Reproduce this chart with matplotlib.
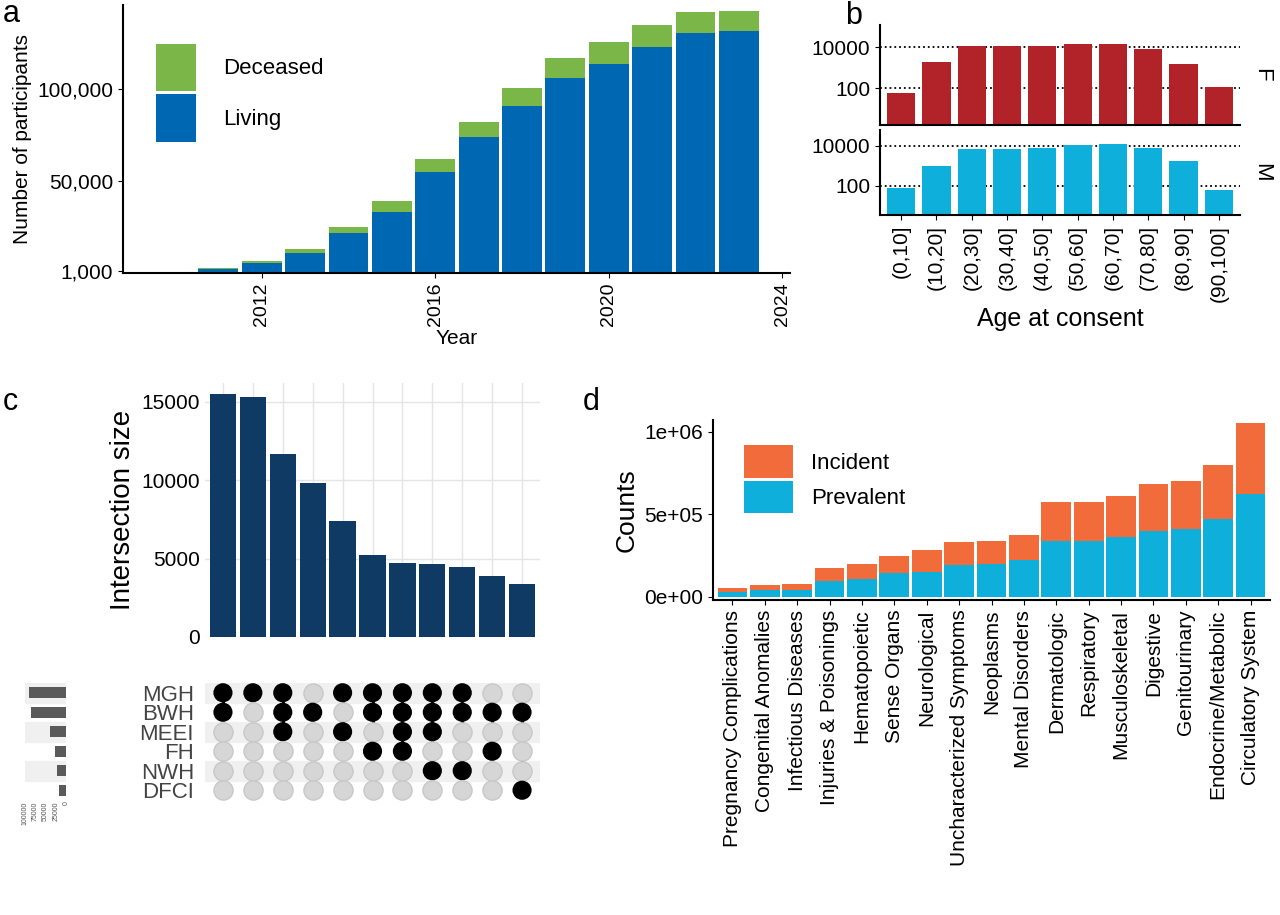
import matplotlib
matplotlib.use("Agg")
import matplotlib.pyplot as plt
import numpy as np

plt.rcParams['font.family'] = ['Liberation Sans', 'DejaVu Sans']

# ---- data ----
years = [2011, 2012, 2013, 2014, 2015, 2016, 2017, 2018, 2019, 2020, 2021, 2022, 2023]
living = [2200, 5500, 11000, 22000, 33000, 55000, 74000, 91000, 106000, 114000, 123000, 131000, 132000]
deceased = [300, 1000, 2000, 3000, 6000, 7000, 8000, 10000, 11000, 12000, 12000, 11000, 11000]

age_bins = ['(0,10]', '(10,20]', '(20,30]', '(30,40]', '(40,50]', '(50,60]', '(60,70]', '(70,80]', '(80,90]', '(90,100]']
female = [60, 2000, 12000, 11000, 11000, 15000, 14000, 8000, 1500, 120]
male = [80, 1000, 7000, 7000, 8000, 11000, 13000, 8000, 1800, 60]

sets = ['MGH', 'BWH', 'MEEI', 'FH', 'NWH', 'DFCI']
set_sizes = [90000, 85000, 40000, 28000, 22000, 17000]
intersections = [['MGH', 'BWH'], ['MGH'], ['MGH', 'BWH', 'MEEI'], ['BWH'], ['MGH', 'MEEI'],
                 ['MGH', 'BWH', 'FH'], ['MGH', 'BWH', 'MEEI', 'FH'], ['MGH', 'BWH', 'MEEI', 'NWH'],
                 ['MGH', 'BWH', 'NWH'], ['BWH', 'FH'], ['BWH', 'DFCI']]
inter_sizes = [15500, 15300, 11700, 9800, 7400, 5200, 4700, 4650, 4450, 3900, 3400]

categories = ['Pregnancy Complications', 'Congenital Anomalies', 'Infectious Diseases', 'Injuries & Poisonings',
              'Hematopoietic', 'Sense Organs', 'Neurological', 'Uncharacterized Symptoms', 'Neoplasms',
              'Mental Disorders', 'Dermatologic', 'Respiratory', 'Musculoskeletal', 'Digestive',
              'Genitourinary', 'Endocrine/Metabolic', 'Circulatory System']
prevalent = [30000, 40000, 40000, 95000, 109000, 145000, 150000, 190000, 200000, 220000, 340000, 340000,
             360000, 400000, 410000, 470000, 620000]
incident = [20000, 30000, 35000, 81000, 91000, 100000, 133000, 143000, 140000, 151000, 232000, 232000,
            250000, 280000, 290000, 330000, 430000]

W, H = 1280, 915
fig = plt.figure(figsize=(12.8, 9.15), dpi=100)

def ax_px(x0, y0, x1, y1):
    return fig.add_axes([x0 / W, 1 - y1 / H, (x1 - x0) / W, (y1 - y0) / H])

def clean(ax):
    for s in ['top', 'right']:
        ax.spines[s].set_visible(False)

# ---- panel a ----
ax = ax_px(123, 5, 790, 273)
ax.bar(years, living, width=0.92, color='#0068b3', label='Living')
ax.bar(years, deceased, bottom=living, width=0.92, color='#7ab648', label='Deceased')
ax.set_ylim(0, 146000)
ax.set_xlim(2008.8, 2024.18)
ax.set_yticks([1000, 50000, 100000])
ax.set_yticklabels(['1,000', '50,000', '100,000'], fontsize=15)
ax.set_xticks([2012, 2016, 2020, 2024])
ax.set_xticklabels(['2012', '2016', '2020', '2024'], rotation=90, fontsize=14)
ax.set_xlabel('Year', fontsize=15, labelpad=2)
ax.set_ylabel('Number of participants', fontsize=15)
clean(ax)
for s in ['left', 'bottom']:
    ax.spines[s].set_linewidth(1.5)
h, l = ax.get_legend_handles_labels()
ax.legend(h[::-1], l[::-1], loc='upper left', bbox_to_anchor=(0.02, 0.93), frameon=False, fontsize=16,
          handlelength=1.8, handleheight=2.9, labelspacing=0.15, handletextpad=1.2)
fig.text(3 / W, 1 - 22 / H, 'a', fontsize=22)

# ---- panel b ----
for i, (vals, col, lab, y0, y1, lims) in enumerate([(female, '#b22229', 'F', 25, 125, (1.6, 122000)),
                                                     (male, '#0fafdc', 'M', 130, 215, (3.5, 63000))]):
    bx = ax_px(880, y0, 1240, y1)
    xs = np.arange(len(age_bins))
    bx.bar(xs, vals, width=0.8, color=col)
    bx.set_yscale('log')
    bx.set_ylim(*lims)
    bx.set_yticks([100, 10000])
    bx.set_yticklabels(['100', '10000'], fontsize=15)
    bx.minorticks_off()
    for yv in [100, 10000]:
        bx.axhline(yv, color='black', ls=':', lw=1.3, zorder=0)
    bx.set_xlim(-0.6, 9.6)
    bx.spines['top'].set_visible(False)
    bx.spines['right'].set_visible(False)
    bx.spines['left'].set_linewidth(1.5)
    bx.spines['bottom'].set_linewidth(1.5)
    bx.text(1.03, 0.5, lab, transform=bx.transAxes, rotation=-90, fontsize=16, va='center')
    if i == 0:
        bx.set_xticks([])
    else:
        bx.set_xticks(xs)
        bx.set_xticklabels(age_bins, rotation=90, fontsize=15)
        bx.set_xlabel('Age at consent', fontsize=18)
fig.text(845 / W, 1 - 24 / H, 'b', fontsize=22)

# ---- panel c ----
n = len(inter_sizes)
cx = ax_px(205, 383, 540, 637)
cx.bar(np.arange(n), inter_sizes, width=0.88, color='#0e3a63')
cx.set_xlim(-0.6, n - 0.4)
cx.set_ylim(0, 16200)
cx.set_yticks([0, 5000, 10000, 15000])
cx.set_yticklabels(['0', '5000', '10000', '15000'], fontsize=15)
cx.set_xticks(np.arange(n))
cx.set_xticklabels([])
cx.tick_params(axis='x', length=0)
cx.tick_params(axis='y', length=0)
for s in cx.spines.values():
    s.set_visible(False)
cx.grid(True, color='#e5e5e5', lw=1)
cx.set_axisbelow(True)
cx.set_ylabel('Intersection size', fontsize=20)

mx = ax_px(205, 683, 540, 800)
mx.set_xlim(-0.6, n - 0.4)
mx.set_ylim(len(sets) - 0.5, -0.5)
for j in range(len(sets)):
    if j % 2 == 0:
        mx.axhspan(j - 0.5, j + 0.5, color='#f0f0f0', zorder=0)
for i, inter in enumerate(intersections):
    idx = [sets.index(s) for s in inter]
    for j in range(len(sets)):
        mx.scatter(i, j, s=190, color='black' if j in idx else '#d6d6d6', zorder=3,
                   edgecolors='none' if j in idx else '#c8c8c8')
    if len(idx) > 1:
        mx.plot([i, i], [min(idx), max(idx)], color='black', lw=2, zorder=2)
mx.set_yticks(range(len(sets)))
mx.set_yticklabels(sets, fontsize=16, color='#444444')
mx.set_xticks([])
mx.tick_params(axis='y', length=0, pad=8)
for s in mx.spines.values():
    s.set_visible(False)

sx = ax_px(25, 683, 66, 800)
sx.barh(range(len(sets)), set_sizes, height=0.55, color='#5a5a5a')
for j in range(len(sets)):
    if j % 2 == 0:
        sx.axhspan(j - 0.5, j + 0.5, color='#f0f0f0', zorder=0)
sx.set_ylim(len(sets) - 0.5, -0.5)
sx.set_xlim(100000, 0)
sx.set_yticks([])
sx.set_xticks([0, 25000, 50000, 75000, 100000])
sx.set_xticklabels(['0', '25000', '50000', '75000', '100000'], rotation=90, fontsize=5, color='#555555')
sx.tick_params(axis='x', length=0, pad=1)
for s in sx.spines.values():
    s.set_visible(False)
fig.text(3 / W, 1 - 410 / H, 'c', fontsize=22)

# ---- panel d ----
dx = ax_px(713, 420, 1270, 600)
xs = np.arange(len(categories))
dx.bar(xs, prevalent, width=0.92, color='#0fafdc', label='Prevalent')
dx.bar(xs, incident, bottom=prevalent, width=0.92, color='#f26b3a', label='Incident')
dx.set_xlim(-0.6, len(categories) - 0.4)
dx.set_ylim(-20000, 1070000)
dx.set_yticks([0, 500000, 1000000])
dx.set_yticklabels(['0e+00', '5e+05', '1e+06'], fontsize=15)
dx.set_xticks(xs)
dx.set_xticklabels(categories, rotation=90, fontsize=15)
dx.set_ylabel('Counts', fontsize=19)
clean(dx)
for s in ['left', 'bottom']:
    dx.spines[s].set_linewidth(1.5)
h, l = dx.get_legend_handles_labels()
dx.legend(h[::-1], l[::-1], loc='upper left', bbox_to_anchor=(0.02, 0.97), frameon=False, fontsize=16,
          handlelength=2.2, handleheight=1.9, labelspacing=0.1)
fig.text(583 / W, 1 - 410 / H, 'd', fontsize=22)

fig.savefig('out.png', dpi=100)
